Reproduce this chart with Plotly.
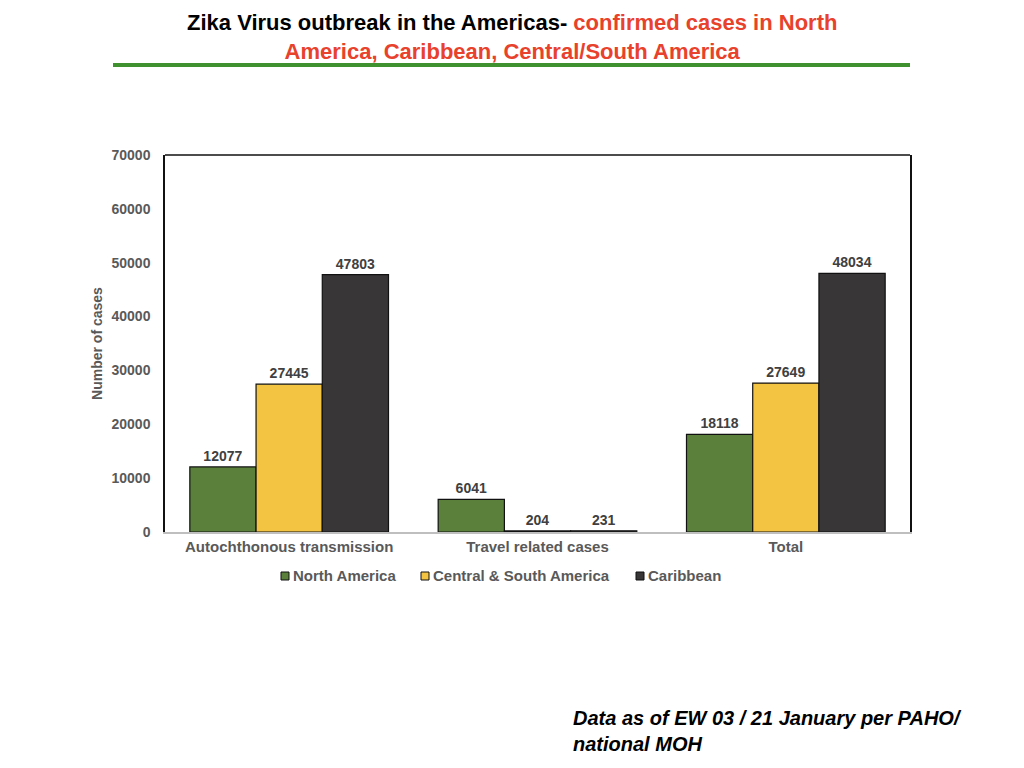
import plotly.graph_objects as go

categories = ["Autochthonous transmission", "Travel related cases", "Total"]
series_names = ["North America", "Central & South America", "Caribbean"]
north_america = [12077, 6041, 18118]
central_south = [27445, 204, 27649]
caribbean = [47803, 231, 48034]
y_ticks = [0, 10000, 20000, 30000, 40000, 50000, 60000, 70000]

colors = ["#5a803c", "#f3c342", "#383637"]
values = [north_america, central_south, caribbean]
FONT = "Liberation Sans, Arial"

# page has an 8px body margin; figure coordinates are screen - 8
L, T, PW, PH = 157, 147, 745, 377
W, H = 1024, 768

def px_x(sx):
    return (sx - 8 - L) / PW

def px_y(sy):
    return (T + PH - (sy - 8)) / PH

fig = go.Figure()
for name, vals, col in zip(series_names, values, colors):
    fig.add_trace(go.Bar(
        x=categories, y=vals, name=name,
        marker=dict(color=col, line=dict(color="#111111", width=1.2)),
        texttemplate="<b>%{y:d}</b>", textposition="outside",
        textfont=dict(family=FONT, size=14, color="#404040"),
        cliponaxis=False, showlegend=False,
    ))

shapes = [
    dict(type="line", xref="paper", yref="paper", x0=0, x1=1, y0=1, y1=1,
         line=dict(color="#111111", width=1.5)),
    dict(type="line", xref="paper", yref="paper", x0=px_x(113), x1=1,
         y0=px_y(65), y1=px_y(65), line=dict(color="#3f9130", width=4)),
]
annotations = [
    dict(text="<b>Zika Virus outbreak in the Americas- <span style='color:#e8412c'>confirmed cases in North</span><br><span style='color:#e8412c'>America, Caribbean, Central/South America</span></b>",
         xref="paper", yref="paper", x=px_x(512), y=px_y(37),
         xanchor="center", yanchor="middle", align="center", showarrow=False,
         font=dict(family=FONT, size=22, color="#000000")),
    dict(text="<b><i>Data as of EW 03 / 21 January per PAHO/<br>national MOH</i></b>",
         xref="paper", yref="paper", x=px_x(571), y=px_y(731),
         xanchor="left", yanchor="middle", align="left", showarrow=False,
         font=dict(family=FONT, size=20, color="#000000")),
]

# custom legend (small squares directly before text)
legend_x = [281, 421, 636]
legend_y = 575
for name, col, lx in zip(series_names, colors, legend_x):
    shapes.append(dict(type="rect", xref="paper", yref="paper",
                       x0=px_x(lx), x1=px_x(lx + 8), y0=px_y(legend_y + 5), y1=px_y(legend_y - 3),
                       fillcolor=col, line=dict(color="#111111", width=1)))
    annotations.append(dict(text="<b>" + name + "</b>", xref="paper", yref="paper",
                            x=px_x(lx + 10), y=px_y(legend_y), xanchor="left", yanchor="middle",
                            showarrow=False, font=dict(family=FONT, size=15, color="#595959")))

fig.update_layout(
    width=W, height=H,
    margin=dict(l=L, r=W - L - PW, t=T, b=H - T - PH, pad=0),
    paper_bgcolor="white", plot_bgcolor="white",
    barmode="group", bargap=0.2, bargroupgap=0,
    font=dict(family=FONT, color="#595959"),
    showlegend=False,
    xaxis=dict(showline=True, linecolor="#bfbfbf", linewidth=2, ticks="",
               tickvals=categories, ticktext=["<b>" + c + "</b>" for c in categories],
               tickfont=dict(size=15, color="#595959", family=FONT), showgrid=False),
    yaxis=dict(range=[0, 70000], tickvals=y_ticks, ticktext=["<b>%d</b>" % v for v in y_ticks],
               showgrid=False, zeroline=False,
               showline=True, linecolor="#111111", linewidth=1.5, mirror=True,
               ticks="", ticklabelstandoff=10, tickfont=dict(size=14, color="#595959", family=FONT),
               title=dict(text="<b>Number of cases</b>", font=dict(size=14, color="#595959", family=FONT), standoff=6)),
    shapes=shapes,
    annotations=annotations,
)

fig.write_html("out.html")
